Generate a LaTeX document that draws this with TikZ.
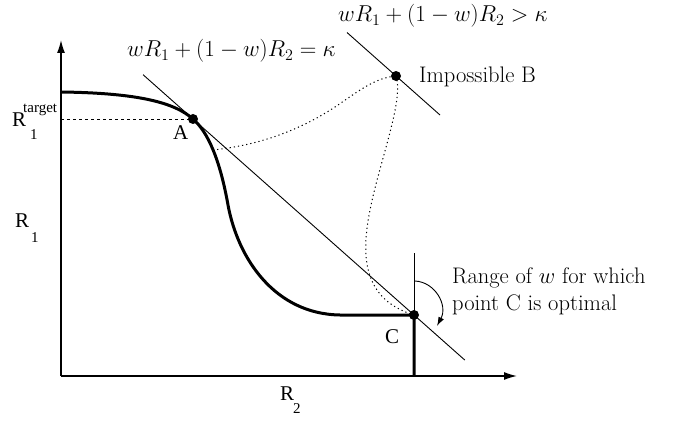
\RequirePackage{fix-cm}
\documentclass[tikz,border=0pt]{standalone}
\usepackage{fontspec}
\newfontfamily\tms{Liberation Serif}
\usetikzlibrary{arrows.meta,calc}
\begin{document}
\begin{tikzpicture}[x=1pt,y=-1pt,
  thinline/.style={line width=0.9pt},
  axis/.style={line width=1.3pt,-{Latex[length=13pt,width=8pt]}},
  frontier/.style={line width=3pt},
  dotline/.style={line width=1pt,dash pattern=on 1.2pt off 3pt},
  dashline/.style={line width=0.9pt,dash pattern=on 3pt off 3pt},
  pt/.style={circle,fill=black,inner sep=0pt,minimum size=10pt},
  tlabel/.style={font=\tms\fontsize{21}{25}\selectfont,inner sep=0pt,anchor=base west},
  mlabel/.style={font=\fontsize{23}{28}\selectfont,inner sep=0pt,anchor=base west},
  clabel/.style={font=\fontsize{22.5}{27}\selectfont,inner sep=0pt,anchor=base west}
]
\useasboundingbox (0,0) rectangle (685,422);
% coordinates
\coordinate (O) at (61,376);
\coordinate (ytip) at (61,40);
\coordinate (xtip) at (517,376);
\coordinate (start) at (61,92);
\coordinate (bend) at (213,150);
\coordinate (flat) at (340,315);
\coordinate (Cfoot) at (414,376);
\coordinate (Ctop) at (414,253);
\coordinate (Rt) at (61,119);
\coordinate (arcS) at (415,281);
\coordinate (arcE) at (437,326);
% axes
\draw[axis] (O) -- (ytip);
\draw[axis] (O) -- (xtip);
% points
\node[pt] (A) at (193,119) {};
\node[pt] (B) at (396,76) {};
\node[pt] (C) at (414,315) {};
% frontier
\draw[frontier] (start) .. controls (140,93) and (175,103) .. (A.center)
  .. controls (208,132) and (220,160) .. (228,205)
  .. controls (238,259) and (275,314) .. (flat) -- (C.center) -- (Cfoot);
% lines
\draw[thinline] ($(A.center)!-0.226!(C.center)$) -- ($(C.center)!-0.23!(A.center)$);
\draw[thinline] ($(B.center)+(-49,-43.5)$) -- ($(B.center)+(44,39)$);
\draw[dashline] (Rt) -- (A.center);
\draw[thinline] (C.center) -- (Ctop);
\draw[dotline] (bend) .. controls (260,145) and (300,130) .. (335,107)
  .. controls (360,90) and (375,78) .. (B.center);
\draw[dotline] (B.center) .. controls (404,100) and (380,160) .. (370,210)
  .. controls (360,260) and (365,300) .. (C.center);
\draw[thinline,-{Latex[length=9pt,width=6pt]}] (arcS) .. controls (435,282) and (448,305) .. (arcE);
% labels
\node[mlabel] (eq1) at (127,57) {$wR_1+(1-w)R_2=\kappa$};
\node[mlabel] (eq2) at (338,22) {$wR_1+(1-w)R_2>\kappa$};
\node[clabel] (imp) at (419,83) {Impossible B};
\node[clabel] (range1) at (452,283) {Range of $w$ for which};
\node[clabel] (range2) at (452,310) {point C is optimal};
\node[tlabel] (labA) at (173,140) {A};
\node[tlabel] (labC) at (385,343) {C};
\node[tlabel] (R1t) at (12,127) {R\kern-3pt\rlap{\raisebox{14pt}{\fontsize{15}{18}\selectfont target}}\kern7pt\raisebox{-13pt}{\fontsize{15}{18}\selectfont 1}};
\node[tlabel] (R1) at (15,227) {R\kern2pt\raisebox{-15pt}{\fontsize{15}{18}\selectfont 1}};
\node[tlabel] (R2) at (280,400) {R\kern-1pt\raisebox{-13pt}{\fontsize{15}{18}\selectfont 2}};
\end{tikzpicture}
\end{document}
